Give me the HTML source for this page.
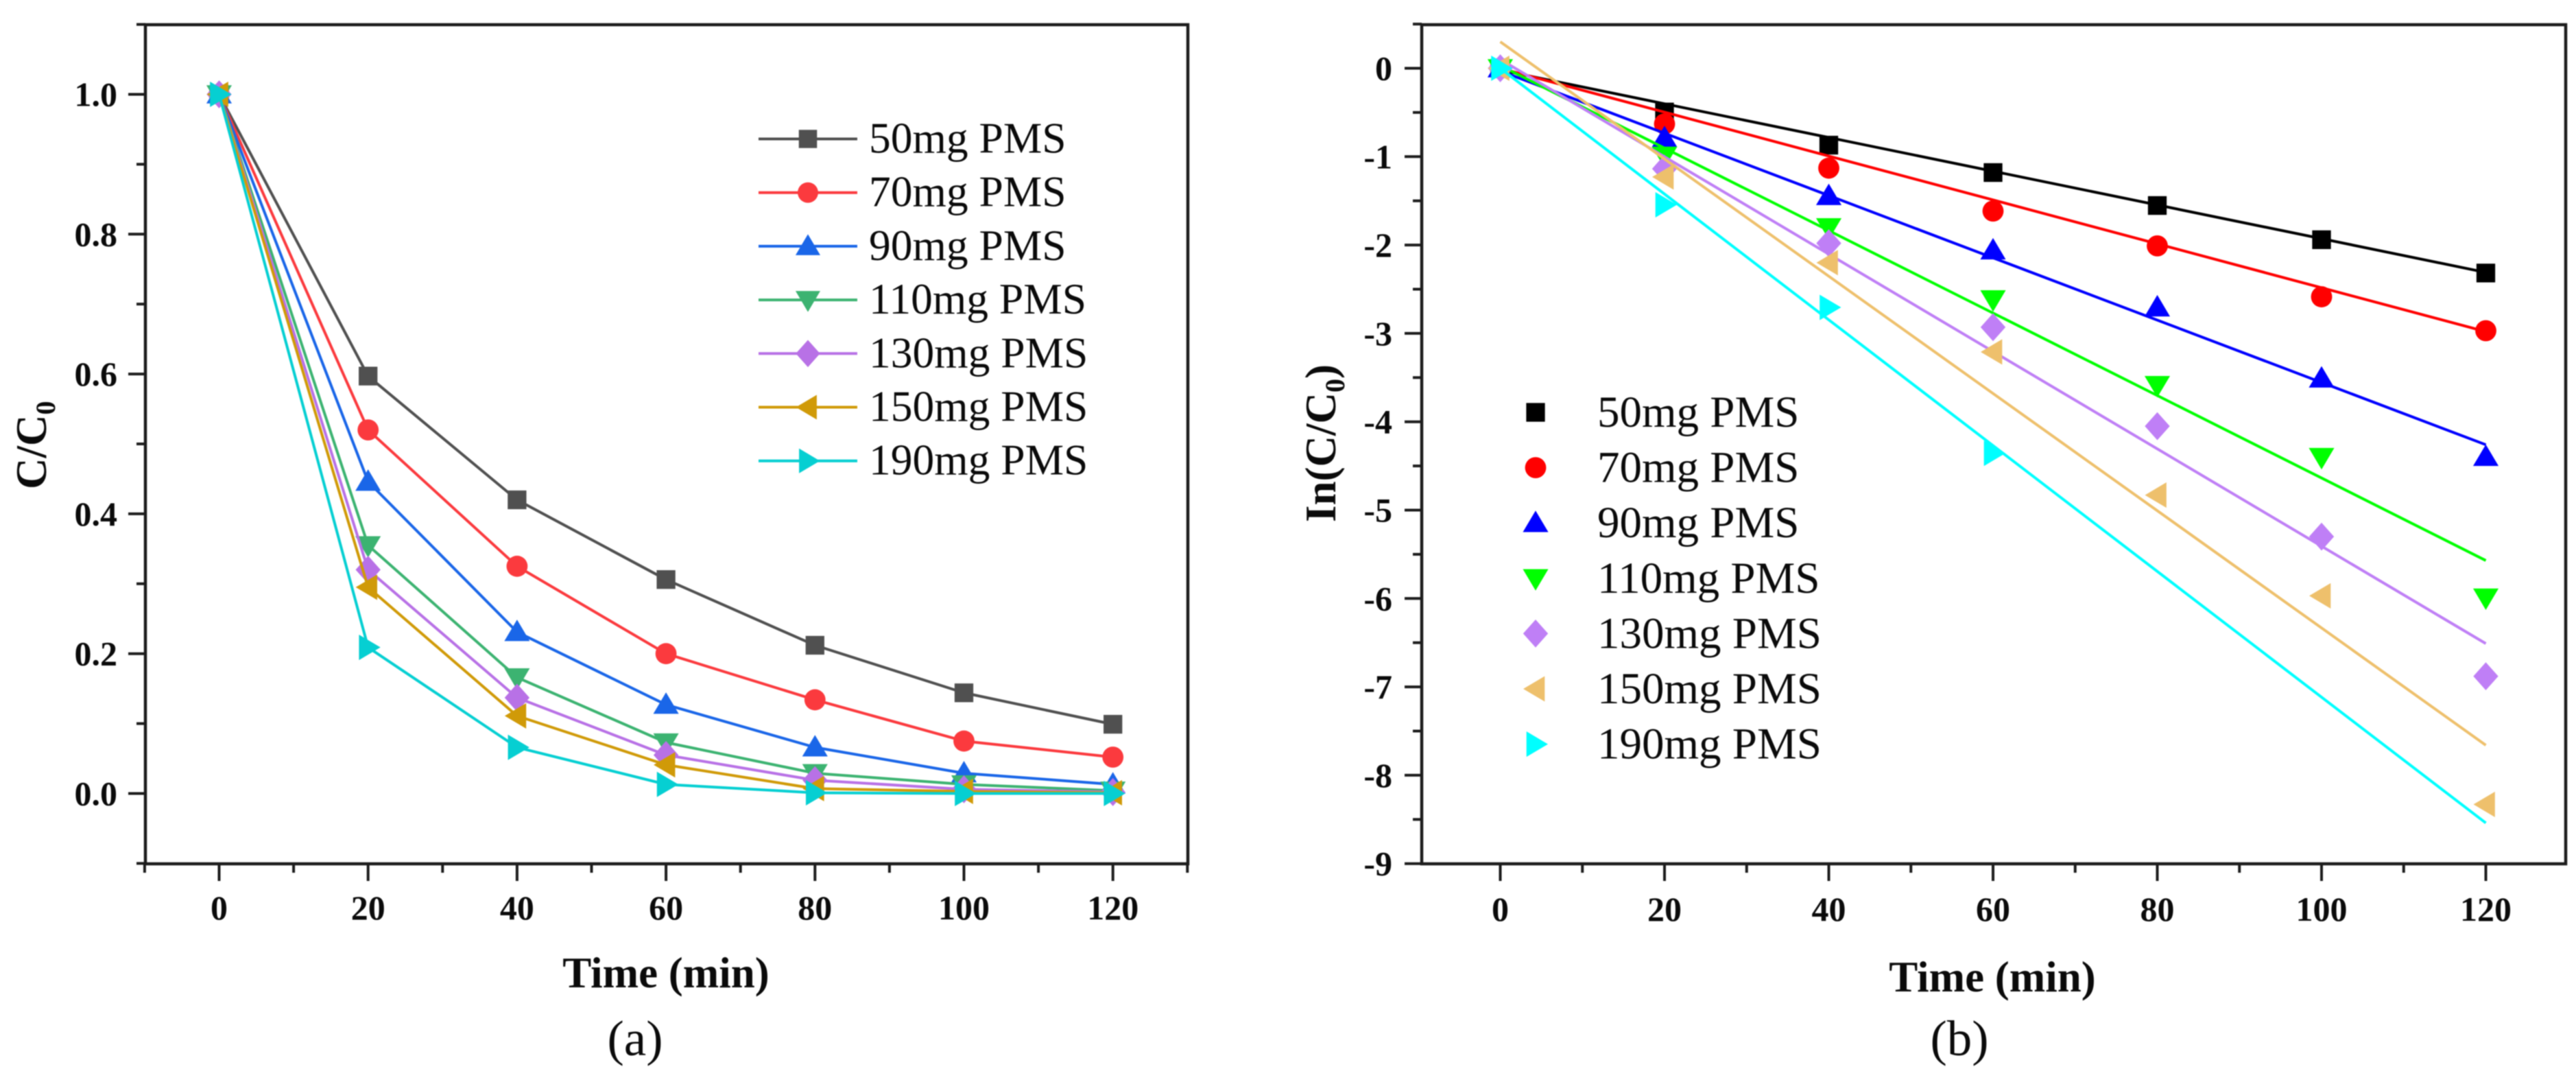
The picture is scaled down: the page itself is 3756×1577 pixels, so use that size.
<!DOCTYPE html>
<html lang="en">
<head>
<meta charset="utf-8">
<title>PMS dosage degradation kinetics</title>
<style>
html,body{margin:0;padding:0;background:#fff;}
body{width:3756px;height:1577px;overflow:hidden;}
svg{display:block;filter:blur(0.9px);}
text{font-family:"Liberation Serif","Times New Roman",serif;fill:#0a0a0a;}
</style>
</head>
<body>
<svg id="figure" xmlns="http://www.w3.org/2000/svg" width="3756" height="1577" viewBox="0 0 3756 1577">
  <rect x="0" y="0" width="3756" height="1577" fill="#ffffff"/>
  <g id="panelA"></g>
  <g id="panelB"></g>

  <text x="971" y="1439" font-size="63" font-weight="700" text-anchor="middle">Time (min)</text>
  <text x="926" y="1538" font-size="73" text-anchor="middle">(a)</text>
  <text transform="translate(67,713) rotate(-90)" font-size="63" font-weight="700">C/C<tspan font-size="40" dy="13">0</tspan></text>

  <text x="2905" y="1445" font-size="63" font-weight="700" text-anchor="middle">Time (min)</text>
  <text x="2857" y="1538" font-size="73" text-anchor="middle">(b)</text>
  <text transform="translate(1947,761) rotate(-90)" font-size="63" font-weight="700">In(C/C<tspan font-size="40" dy="13">0</tspan><tspan dy="-13">)</tspan></text>
</svg>

<script>
// Shared categories
const timesA = [0, 20, 40, 60, 80, 100, 120];
const timesB = [0, 20, 40, 60, 80, 100, 120];
const seriesNames = ['50mg PMS', '70mg PMS', '90mg PMS', '110mg PMS', '130mg PMS', '150mg PMS', '190mg PMS'];
const markerKinds = ['square', 'circle', 'up', 'down', 'diamond', 'left', 'right'];

// Panel (a): C/C0
const a50 = [1, 0.597, 0.42, 0.306, 0.212, 0.144, 0.099];
const a70 = [1, 0.52, 0.325, 0.2, 0.134, 0.075, 0.052];
const a90 = [1, 0.446, 0.231, 0.127, 0.066, 0.029, 0.013];
const a110 = [1, 0.355, 0.166, 0.073, 0.029, 0.013, 0.004];
const a130 = [1, 0.32, 0.137, 0.055, 0.019, 0.006, 0.002];
const a150 = [1, 0.295, 0.111, 0.041, 0.007, 0.003, 0.001];
const a190 = [1, 0.209, 0.066, 0.013, 0.001, 0, 0];
const seriesA = [a50, a70, a90, a110, a130, a150, a190];
const yTicksA = ['0.0', '0.2', '0.4', '0.6', '0.8', '1.0'];
const xTickLabels = ['0', '20', '40', '60', '80', '100', '120'];

// Panel (b): ln(C/C0) measured points
const b50 = [0, -0.495, -0.87, -1.18, -1.553, -1.94, -2.317];
const b70 = [0, -0.63, -1.13, -1.616, -2.01, -2.586, -2.97];
const b90 = [0, -0.79, -1.445, -2.06, -2.705, -3.51, -4.397];
const b110 = [0, -0.99, -1.8, -2.615, -3.585, -4.4, -5.99];
const b130 = [0, -1.137, -1.98, -2.93, -4.05, -5.3, -6.88];
const b150 = [0, -1.23, -2.2, -3.21, -4.83, -5.97, -8.33];
const b190 = [0, -1.545, -2.706, -4.357];
const seriesB = [b50, b70, b90, b110, b130, b150, b190];
// Panel (b): fitted lines, value at t=0 and t=120
const fitTimes = [0, 120];
const fit50 = [-0.02, -2.31];
const fit70 = [0, -2.98];
const fit90 = [-0.03, -4.26];
const fit110 = [0.03, -5.57];
const fit130 = [0.1, -6.51];
const fit150 = [0.3, -7.66];
const fit190 = [0, -8.54];
const fitsB = [fit50, fit70, fit90, fit110, fit130, fit150, fit190];
const yTicksB = ['0', '-1', '-2', '-3', '-4', '-5', '-6', '-7', '-8', '-9'];

const colorsA = ['#505050', '#fb3a3e', '#1a66e8', '#3cb371', '#b871e6', '#d09a08', '#06cfd2'];
const colorsB = ['#000000', '#ff0000', '#0000ff', '#00ff00', '#bf7ff6', '#eec06c', '#00ffff'];

const NS = 'http://www.w3.org/2000/svg';

function mk(parent, tag, attrs, text) {
  const el = document.createElementNS(NS, tag);
  for (const k in attrs) el.setAttribute(k, attrs[k]);
  if (text !== undefined) el.textContent = text;
  parent.appendChild(el);
  return el;
}

function markerEl(parent, kind, cx, cy, s, color) {
  // s is half of the nominal marker size
  if (kind === 'square') {
    return mk(parent, 'rect', { x: cx - s * 0.78, y: cy - s * 0.78, width: s * 1.56, height: s * 1.56, fill: color });
  }
  if (kind === 'circle') {
    return mk(parent, 'circle', { cx: cx, cy: cy, r: s * 0.88, fill: color });
  }
  const a = s * 1.06, b = s * 0.98, c = s * 0.76;
  let pts;
  if (kind === 'up') pts = [[cx, cy - b * 1.05], [cx + a, cy + c], [cx - a, cy + c]];
  if (kind === 'down') pts = [[cx, cy + b * 1.05], [cx + a, cy - c], [cx - a, cy - c]];
  if (kind === 'left') pts = [[cx - b * 1.05, cy], [cx + c, cy - a], [cx + c, cy + a]];
  if (kind === 'right') pts = [[cx + b * 1.05, cy], [cx - c, cy - a], [cx - c, cy + a]];
  if (kind === 'diamond') pts = [[cx, cy - a * 1.1], [cx + a * 0.98, cy], [cx, cy + a * 1.1], [cx - a * 0.98, cy]];
  return mk(parent, 'polygon', { points: pts.map(p => p.join(',')).join(' '), fill: color });
}

function drawAxes(root, prefix, f, xs, ys, xLabels, yLabels, xMinor, yMinor, xBase, yRight) {
  const ink = '#1c1c1c';
  const frame = mk(root, 'rect', { x: f.l, y: f.t, width: f.r - f.l, height: f.b - f.t, fill: 'none', stroke: ink, 'stroke-width': 4.5 });
  
  

  xLabels.forEach(lbl => {
    const px = xs(+lbl);
    const tick = mk(root, 'line', { x1: px, x2: px, y1: f.b, y2: f.b + 25, stroke: ink, 'stroke-width': 4 });
    
    
    const label = mk(root, 'text', { x: px, y: xBase, 'font-size': 50, 'font-weight': 700, 'text-anchor': 'middle' }, lbl);
    
    
  });
  xMinor.forEach(v => {
    const px = xs(v);
    const tick = mk(root, 'line', { x1: px, x2: px, y1: f.b, y2: f.b + 13, stroke: ink, 'stroke-width': 4 });
    
    
  });
  yLabels.forEach(lbl => {
    const py = ys(+lbl);
    const tick = mk(root, 'line', { x1: f.l - 25, x2: f.l, y1: py, y2: py, stroke: ink, 'stroke-width': 4 });
    
    
    const label = mk(root, 'text', { x: yRight, y: py + 17, 'font-size': 50, 'font-weight': 700, 'text-anchor': 'end' }, lbl);
    
    
  });
  yMinor.forEach(v => {
    const py = ys(v);
    const tick = mk(root, 'line', { x1: f.l - 13, x2: f.l, y1: py, y2: py, stroke: ink, 'stroke-width': 4 });
    
    
  });
}

/* ---------- Panel A ---------- */
const gA = document.getElementById('panelA');
const frameA = { l: 212, r: 1732, t: 36, b: 1259 };
const xA = t => 319.5 + t * 10.86;
const yA = v => 1156.5 - v * 1019;
drawAxes(gA, 'panel-a', frameA, xA, yA, xTickLabels, yTicksA,
  [-10, 10, 30, 50, 70, 90, 110, 130],
  [-0.1, 0.1, 0.3, 0.5, 0.7, 0.9, 1.1],
  1340, 171);

seriesA.forEach((vals, i) => {
  const g = mk(gA, 'g', {});
  
  
  const line = mk(g, 'polyline', {
    points: vals.map((v, j) => xA(timesA[j]) + ',' + yA(v)).join(' '),
    fill: 'none', stroke: colorsA[i], 'stroke-width': 4, 'stroke-linejoin': 'round'
  });
  
  
  vals.forEach((v, j) => {
    const m = markerEl(g, markerKinds[i], xA(timesA[j]), yA(v), 17.5, colorsA[i]);
    
    
  });
});

const legA = mk(gA, 'g', {});


seriesNames.forEach((name, i) => {
  const cy = 202.5 + i * 78.2;
  const row = mk(legA, 'g', {});
  
  
  const ln = mk(row, 'line', { x1: 1106, x2: 1250, y1: cy, y2: cy, stroke: colorsA[i], 'stroke-width': 4 });
  
  
  const mm = markerEl(row, markerKinds[i], 1178, cy, 17, colorsA[i]);
  
  
  const tx = mk(row, 'text', { x: 1267, y: cy + 20, 'font-size': 63.5 }, name);
  
  
});

/* ---------- Panel B ---------- */
const gB = document.getElementById('panelB');
const frameB = { l: 2073, r: 3741, t: 36, b: 1259 };
const xB = t => 2187.5 + t * 11.975;
const yB = v => 99.5 - v * 128.8;
drawAxes(gB, 'panel-b', frameB, xB, yB, xTickLabels, yTicksB,
  [10, 30, 50, 70, 90, 110],
  [0.5, -0.5, -1.5, -2.5, -3.5, -4.5, -5.5, -6.5, -7.5, -8.5],
  1342, 2030);

seriesB.forEach((vals, i) => {
  const g = mk(gB, 'g', {});
  
  
  const fit = fitsB[i];
  const line = mk(g, 'line', {
    x1: xB(fitTimes[0]), y1: yB(fit[0]), x2: xB(fitTimes[1]), y2: yB(fit[1]),
    stroke: colorsB[i], 'stroke-width': 4
  });
  
  
  vals.forEach((v, j) => {
    const m = markerEl(g, markerKinds[i], xB(timesB[j]), yB(v), 17.5, colorsB[i]);
    
    
  });
});

const legB = mk(gB, 'g', {});


seriesNames.forEach((name, i) => {
  const cy = 601 + i * 80.6;
  const row = mk(legB, 'g', {});
  
  
  const mm = markerEl(row, markerKinds[i], 2239, cy, 17.5, colorsB[i]);
  
  
  const tx = mk(row, 'text', { x: 2329, y: cy + 21, 'font-size': 65 }, name);
  
  
});
</script>
</body>
</html>
